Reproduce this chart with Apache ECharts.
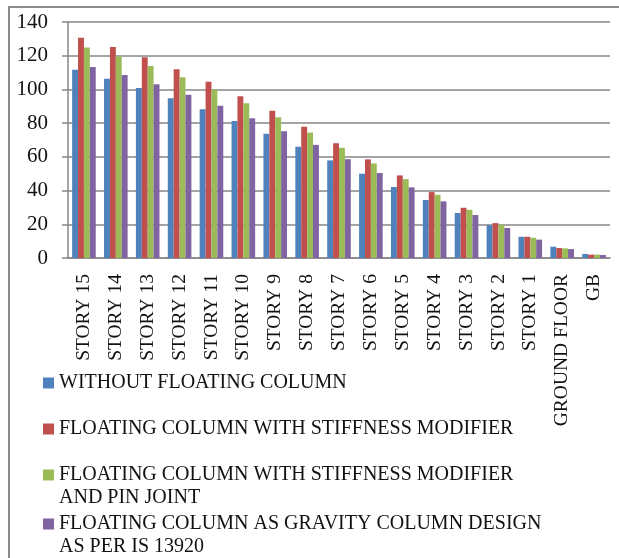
<!DOCTYPE html>
<html>
<head>
<meta charset="utf-8">
<script src="https://cdn.jsdelivr.net/npm/echarts@6/dist/echarts.min.js"></script>
<style>
  body { margin: 0; background: #fff; }
  #frame { position: absolute; left: 8px; top: 6px; width: 700px; height: 700px; border-left: 2px solid #8c8c8c; border-top: 2px solid #8c8c8c; }
  #main { position: absolute; left: 0; top: 0; width: 619px; height: 558px; }
</style>
</head>
<body>
<div id="frame"></div>
<div id="main"></div>
<script>
var myChart = echarts.init(document.getElementById('main'));

var stories = ['STORY 15','STORY 14','STORY 13','STORY 12','STORY 11','STORY 10','STORY 9','STORY 8',
  'STORY 7','STORY 6','STORY 5','STORY 4','STORY 3','STORY 2','STORY 1','GROUND FLOOR','GB'];

var names = [
  'WITHOUT FLOATING COLUMN',
  'FLOATING COLUMN WITH STIFFNESS MODIFIER',
  'FLOATING COLUMN WITH STIFFNESS MODIFIER AND PIN JOINT',
  'FLOATING COLUMN AS GRAVITY COLUMN DESIGN AS PER IS 13920'
];
// legend text as wrapped in the picture (leading blank line keeps the marker on line one)
var legendText = [
  'WITHOUT FLOATING COLUMN',
  'FLOATING COLUMN WITH STIFFNESS MODIFIER',
  '\nFLOATING COLUMN WITH STIFFNESS MODIFIER\nAND PIN JOINT',
  '\nFLOATING COLUMN AS GRAVITY COLUMN DESIGN\nAS PER IS 13920'
];

var withoutFloating = [111.6,106.4,100.9,94.8,88.3,81.2,73.7,66.0,57.9,50.0,42.1,34.4,26.7,19.4,12.6,6.7,2.4];
var stiffMod        = [130.7,125.2,119.1,112.0,104.5,96.0,87.3,77.8,68.1,58.5,49.0,39.1,29.8,20.7,12.6,5.9,2.0];
var stiffModPin     = [124.8,119.5,113.9,107.2,99.9,91.8,83.5,74.4,65.4,56.1,46.8,37.5,28.6,19.7,12.0,5.7,2.0];
var gravityCol      = [113.3,108.6,103.1,96.8,90.3,82.9,75.2,67.1,58.6,50.4,41.9,33.6,25.5,17.8,10.9,5.3,1.8];

var colors = ['#4f81bd','#c0504d','#9bbb59','#8064a2'];
var seriesData = [withoutFloating, stiffMod, stiffModPin, gravityCol];

var font = 'Liberation Serif';
var legendTops = [371.5, 417.5, 440.5, 489.5];

var legends = names.map(function (n, i) {
  return {
    orient: 'vertical',
    left: 43,
    top: legendTops[i],
    padding: 0,
    itemWidth: 11,
    itemHeight: 11,
    icon: 'rect',
    data: [n],
    formatter: function () { return legendText[i]; },
    textStyle: { fontFamily: font, fontSize: 20, color: '#111', lineHeight: 23 }
  };
});

var option = {
  animation: false,
  color: colors,
  legend: legends,
  grid: { left: 68, right: 9, top: 22, bottom: 300, outerBoundsMode: 'none' },
  xAxis: {
    type: 'category',
    data: stories,
    axisLine: { lineStyle: { color: '#868686', width: 1.5 } },
    axisTick: { length: 7, lineStyle: { color: '#868686', width: 1.5 } },
    axisLabel: { rotate: 90, interval: 0, margin: 16, fontFamily: font, fontSize: 19.5, color: '#111' }
  },
  yAxis: {
    type: 'value',
    min: 0, max: 140, interval: 20,
    axisLine: { show: true, lineStyle: { color: '#868686', width: 1.5 } },
    axisTick: { show: true, length: 6, lineStyle: { color: '#868686', width: 1.5 } },
    splitLine: { lineStyle: { color: '#868686', width: 1.5 } },
    axisLabel: { margin: 20, fontFamily: font, fontSize: 21, color: '#111' }
  },
  series: names.map(function (n, i) {
    return {
      name: n,
      type: 'bar',
      data: seriesData[i],
      barGap: '0%',
      barCategoryGap: '26%',
      itemStyle: { color: colors[i] }
    };
  })
};

myChart.setOption(option);
</script>
</body>
</html>
